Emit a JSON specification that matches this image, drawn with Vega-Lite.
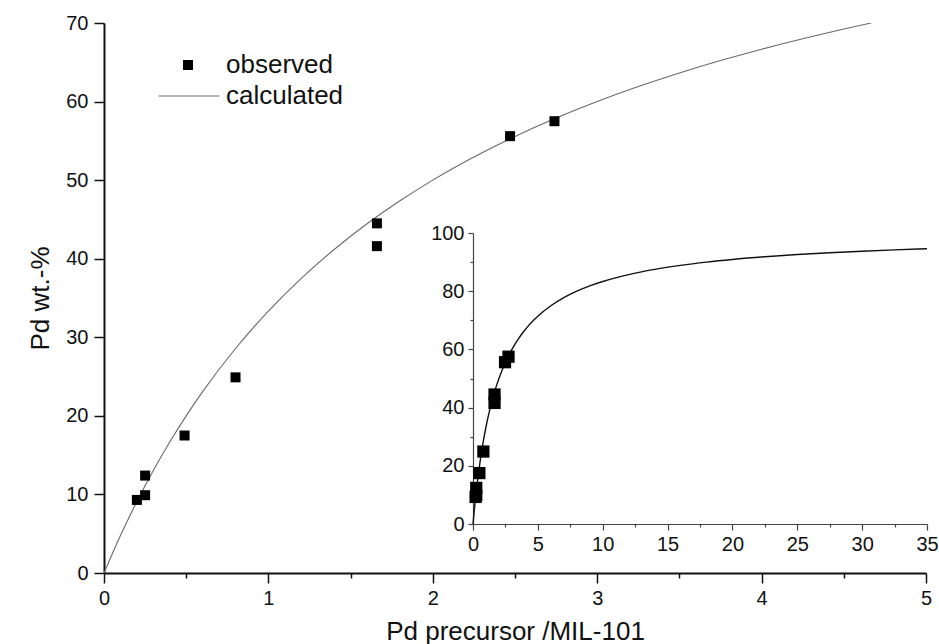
{
  "$schema": "https://vega.github.io/schema/vega-lite/v6.json",
  "autosize": {"type": "none"},
  "padding": {"left": 104, "top": 23, "right": 13, "bottom": 71},
  "width": 822,
  "height": 550,
  "background": "white",
  "config": {
    "view": {"stroke": null},
    "font": "Liberation Sans",
    "axis": {"grid": false, "labelFont": "Liberation Sans", "titleFont": "Liberation Sans", "labelColor": "#111", "titleColor": "#111", "titleFontWeight": "normal"},
    "legend": {"labelFont": "Liberation Sans", "labelFontSize": 26, "labelColor": "#111", "title": null}
  },
  "datasets": {
    "obs": [
      {"x": 0.2, "y": 9.3, "series": "observed"},
      {"x": 0.25, "y": 9.9, "series": "observed"},
      {"x": 0.25, "y": 12.4, "series": "observed"},
      {"x": 0.49, "y": 17.5, "series": "observed"},
      {"x": 0.8, "y": 24.9, "series": "observed"},
      {"x": 1.66, "y": 44.5, "series": "observed"},
      {"x": 1.66, "y": 41.6, "series": "observed"},
      {"x": 2.47, "y": 55.6, "series": "observed"},
      {"x": 2.74, "y": 57.5, "series": "observed"}
    ],
    "calc": [
      {"x": 0, "y": 0, "series": "calculated"}, {"x": 0.1, "y": 4.762, "series": "calculated"}, {"x": 0.2, "y": 9.091, "series": "calculated"}, {"x": 0.3, "y": 13.043, "series": "calculated"},
      {"x": 0.4, "y": 16.667, "series": "calculated"}, {"x": 0.5, "y": 20.0, "series": "calculated"}, {"x": 0.6, "y": 23.077, "series": "calculated"}, {"x": 0.8, "y": 28.571, "series": "calculated"},
      {"x": 1.0, "y": 33.333, "series": "calculated"}, {"x": 1.2, "y": 37.5, "series": "calculated"}, {"x": 1.4, "y": 41.176, "series": "calculated"}, {"x": 1.6, "y": 44.444, "series": "calculated"},
      {"x": 1.8, "y": 47.368, "series": "calculated"}, {"x": 2.0, "y": 50.0, "series": "calculated"}, {"x": 2.25, "y": 52.941, "series": "calculated"}, {"x": 2.5, "y": 55.556, "series": "calculated"},
      {"x": 2.75, "y": 57.895, "series": "calculated"}, {"x": 3.0, "y": 60.0, "series": "calculated"}, {"x": 3.25, "y": 61.905, "series": "calculated"}, {"x": 3.5, "y": 63.636, "series": "calculated"},
      {"x": 3.75, "y": 65.217, "series": "calculated"}, {"x": 4.0, "y": 66.667, "series": "calculated"}, {"x": 4.25, "y": 68.0, "series": "calculated"}, {"x": 4.5, "y": 69.231, "series": "calculated"},
      {"x": 4.667, "y": 70.0, "series": "calculated"}, {"x": 5, "y": 71.429, "series": "calculated"}, {"x": 6, "y": 75.0, "series": "calculated"}, {"x": 7, "y": 77.778, "series": "calculated"},
      {"x": 8, "y": 80.0, "series": "calculated"}, {"x": 9, "y": 81.818, "series": "calculated"}, {"x": 10, "y": 83.333, "series": "calculated"}, {"x": 12, "y": 85.714, "series": "calculated"},
      {"x": 14, "y": 87.5, "series": "calculated"}, {"x": 16, "y": 88.889, "series": "calculated"}, {"x": 18, "y": 90.0, "series": "calculated"}, {"x": 20, "y": 90.909, "series": "calculated"},
      {"x": 22.5, "y": 91.837, "series": "calculated"}, {"x": 25, "y": 92.593, "series": "calculated"}, {"x": 27.5, "y": 93.22, "series": "calculated"}, {"x": 30, "y": 93.75, "series": "calculated"},
      {"x": 32.5, "y": 94.203, "series": "calculated"}, {"x": 35, "y": 94.595, "series": "calculated"}
    ]
  },
  "layer": [
    {
      "layer": [
        {
          "data": {"name": "calc"},
          "transform": [{"filter": "datum.x <= 4.667"}],
          "mark": {"type": "line", "strokeWidth": 1.1, "interpolate": "monotone", "clip": true},
          "encoding": {
            "x": {"field": "x", "type": "quantitative"},
            "y": {"field": "y", "type": "quantitative"},
            "color": {
              "field": "series", "type": "nominal",
              "scale": {"domain": ["calculated"], "range": ["#6a6a6a"]},
              "legend": {
                "orient": "none", "legendX": 54, "legendY": 42,
                "symbolType": "stroke", "symbolSize": 3700, "symbolStrokeWidth": 1.1,
                "labelOffset": 6
              }
            }
          }
        },
        {
          "data": {"name": "obs"},
          "mark": {"type": "point", "filled": true, "color": "black", "opacity": 1, "size": 100},
          "encoding": {
            "x": {
              "field": "x", "type": "quantitative",
              "scale": {"domain": [0, 5], "nice": false},
              "axis": {
                "title": "Pd precursor /MIL-101",
                "values": [0, 0.5, 1, 1.5, 2, 2.5, 3, 3.5, 4, 4.5, 5],
                "labelExpr": "datum.value % 1 == 0 ? format(datum.value, 'd') : ''",
                "tickSize": {"condition": {"test": "datum.value % 1 != 0", "value": 5}, "value": 10},
                "domainColor": "#111", "domainWidth": 2, "tickColor": "#111", "tickWidth": 1.5,
                "labelFontSize": 20, "labelPadding": 5, "titleFontSize": 26, "titlePadding": 10,
                "labelFlush": false
              }
            },
            "y": {
              "field": "y", "type": "quantitative",
              "scale": {"domain": [0, 70], "nice": false},
              "axis": {
                "title": "Pd wt.-%",
                "values": [0, 5, 10, 15, 20, 25, 30, 35, 40, 45, 50, 55, 60, 65, 70],
                "labelExpr": "datum.value % 10 == 0 ? format(datum.value, 'd') : ''",
                "tickSize": {"condition": {"test": "datum.value % 10 != 0", "value": 5}, "value": 10},
                "domainColor": "#111", "domainWidth": 2, "tickColor": "#111", "tickWidth": 1.5,
                "labelFontSize": 20, "labelPadding": 6, "titleFontSize": 26, "titlePadding": 12,
                "labelFlush": false
              }
            },
            "shape": {
              "field": "series", "type": "nominal",
              "scale": {"domain": ["observed"], "range": ["square"]},
              "legend": {
                "orient": "none", "legendX": 71, "legendY": 29,
                "labelOffset": 25, "symbolSize": 100
              }
            }
          }
        }
      ]
    },
    {
      "layer": [
        {
          "data": {"name": "calc"},
          "mark": {"type": "line", "color": "#111", "strokeWidth": 1.4, "interpolate": "monotone"},
          "encoding": {
            "x": {"field": "x", "type": "quantitative"},
            "y": {"field": "y", "type": "quantitative"}
          }
        },
        {
          "data": {"name": "obs"},
          "mark": {"type": "square", "filled": true, "color": "black", "opacity": 1, "size": 150},
          "encoding": {
            "x": {
              "field": "x", "type": "quantitative",
              "scale": {"domain": [0, 35], "nice": false, "range": [369, 823]},
              "axis": {
                "title": null, "orient": "bottom", "offset": -49,
                "values": [0, 2.5, 5, 7.5, 10, 12.5, 15, 17.5, 20, 22.5, 25, 27.5, 30, 32.5, 35],
                "labelExpr": "datum.value % 5 == 0 ? format(datum.value, 'd') : ''",
                "tickSize": {"condition": {"test": "datum.value % 5 != 0", "value": 3}, "value": 6},
                "domainColor": "#444", "domainWidth": 1.2, "tickColor": "#444", "tickWidth": 1.2,
                "labelFontSize": 20, "labelPadding": 4, "labelFlush": false
              }
            },
            "y": {
              "field": "y", "type": "quantitative",
              "scale": {"domain": [0, 100], "nice": false, "range": [501, 210]},
              "axis": {
                "title": null, "orient": "left", "offset": -369,
                "values": [0, 10, 20, 30, 40, 50, 60, 70, 80, 90, 100],
                "labelExpr": "datum.value % 20 == 0 ? format(datum.value, 'd') : ''",
                "tickSize": {"condition": {"test": "datum.value % 20 != 0", "value": 3}, "value": 5},
                "domainColor": "#444", "domainWidth": 1.2, "tickColor": "#444", "tickWidth": 1.2,
                "labelFontSize": 20, "labelPadding": 4, "labelFlush": false
              }
            }
          }
        }
      ]
    }
  ],
  "resolve": {"scale": {"x": "independent", "y": "independent"}, "axis": {"x": "independent", "y": "independent"}}
}
